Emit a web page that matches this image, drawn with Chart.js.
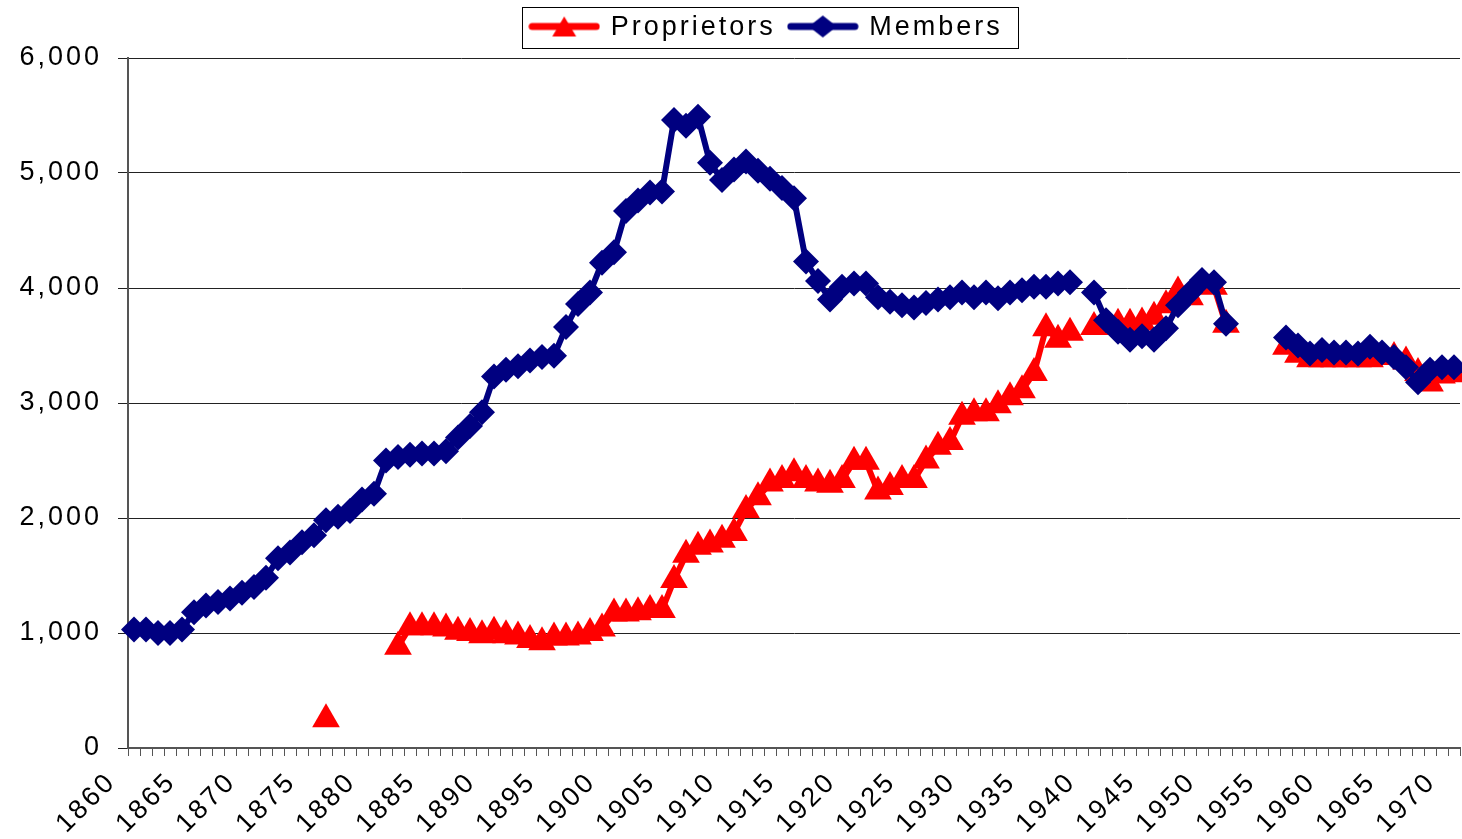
<!DOCTYPE html>
<html>
<head>
<meta charset="utf-8">
<title>Proprietors and Members</title>
<script src="https://cdn.jsdelivr.net/npm/chart.js@4.4.1/dist/chart.umd.min.js"></script>
<style>
  html, body { margin: 0; padding: 0; background: #fff; }
  #wrap { width: 1462px; height: 839px; }
</style>
</head>
<body>
<div id="wrap"><canvas id="myChart"></canvas></div>
<script>
const years = [
  '1860', '1861', '1862', '1863', '1864', '1865', '1866', '1867', '1868', '1869',
  '1870', '1871', '1872', '1873', '1874', '1875', '1876', '1877', '1878', '1879',
  '1880', '1881', '1882', '1883', '1884', '1885', '1886', '1887', '1888', '1889',
  '1890', '1891', '1892', '1893', '1894', '1895', '1896', '1897', '1898', '1899',
  '1900', '1901', '1902', '1903', '1904', '1905', '1906', '1907', '1908', '1909',
  '1910', '1911', '1912', '1913', '1914', '1915', '1916', '1917', '1918', '1919',
  '1920', '1921', '1922', '1923', '1924', '1925', '1926', '1927', '1928', '1929',
  '1930', '1931', '1932', '1933', '1934', '1935', '1936', '1937', '1938', '1939',
  '1940', '1941', '1942', '1943', '1944', '1945', '1946', '1947', '1948', '1949',
  '1950', '1951', '1952', '1953', '1954', '1955', '1956', '1957', '1958', '1959',
  '1960', '1961', '1962', '1963', '1964', '1965', '1966', '1967', '1968', '1969',
  '1970'
];

const proprietors = [
  null, null, null, null, null, null, null, null, null, null,
  null, null, null, null, null, null, 250, null, null, null,
  null, null, 880, 1050, 1050, 1050, 1040, 1010, 1000, 980,
  1010, 980, 970, 940, 920, 960, 960, 970, 1000, 1040,
  1170, 1170, 1180, 1200, 1200, 1460, 1680, 1750, 1770, 1810,
  1870, 2070, 2180, 2300, 2330, 2390, 2330, 2300, 2290, 2330,
  2490, 2490, 2230, 2270, 2330, 2330, 2500, 2620, 2660, 2880,
  2910, 2910, 2980, 3050, 3110, 3260, 3650, 3550, 3610, null,
  3660, 3660, 3690, 3690, 3700, 3750, 3850, 3970, 3920, 4020,
  4010, 3680, null, null, null, null, 3490, 3420, 3380, 3380,
  3380, 3380, 3380, 3380, 3400, 3400, 3360, 3260, 3170, 3240,
  3250
];

const members = [
  1030, 1030, 1000, 1000, 1030, 1180, 1240, 1270, 1300, 1350,
  1400, 1480, 1650, 1700, 1790, 1850, 1980, 2010, 2060, 2160,
  2210, 2500, 2530, 2550, 2560, 2560, 2580, 2700, 2800, 2920,
  3230, 3290, 3320, 3370, 3400, 3410, 3660, 3860, 3960, 4220,
  4310, 4670, 4760, 4830, 4840, 5460, 5410, 5490, 5090, 4940,
  5030, 5100, 5020, 4950, 4870, 4780, 4230, 4060, 3900, 4010,
  4040, 4040, 3920, 3880, 3850, 3830, 3870, 3900, 3920, 3960,
  3920, 3960, 3910, 3960, 3980, 4010, 4010, 4040, 4050, null,
  3960, 3720, 3620, 3550, 3580, 3550, 3650, 3850, 3960, 4070,
  4050, 3690, null, null, null, null, 3570, 3500, 3430, 3460,
  3440, 3440, 3430, 3490, 3440, 3400, 3310, 3180, 3290, 3310,
  3310
];

const yMin = 0;
const yMax = 6000;
const yStep = 1000;

const RED = '#ff0000';
const NAVY = '#000080';

// legend icon: line with the marker in the middle, like the spreadsheet legend
function legendIcon(color, marker) {
  const c = document.createElement('canvas');
  c.width = 72;
  c.height = 30;
  const g = c.getContext('2d');
  g.strokeStyle = color;
  g.fillStyle = color;
  g.lineWidth = 7;
  g.lineCap = 'round';
  g.beginPath();
  g.moveTo(4, 14);
  g.lineTo(68, 14);
  g.stroke();
  g.beginPath();
  if (marker === 'triangle') {
    g.moveTo(36, 4);
    g.lineTo(48, 24);
    g.lineTo(24, 24);
  } else {
    g.moveTo(36, 3);
    g.lineTo(50, 14);
    g.lineTo(36, 25);
    g.lineTo(22, 14);
  }
  g.closePath();
  g.fill();
  return c;
}

const iconP = legendIcon(RED, 'triangle');
const iconM = legendIcon(NAVY, 'diamond');

const excelLook = {
  id: 'excelLook',
  afterInit(chart) {
    const lg = chart.legend;
    const fit = lg.fit.bind(lg);
    lg.fit = function () { fit(); this.height = 58; };
  },
  beforeUpdate(chart) { chart.ctx.letterSpacing = '3px'; },
  beforeDraw(chart) { chart.ctx.letterSpacing = '3px'; },
  afterLayout(chart) {
    chart.legend.left += 36;
    chart.legend.right += 36;
    // let the plot run out to the right edge, as in the cropped original
    const area = chart.chartArea;
    const xs = chart.scales.x;
    area.right = chart.width - 2;
    area.width = area.right - area.left;
    xs.right = area.right;
    xs.width = area.right - xs.left;
    xs.configure();
  },
  afterDraw(chart) {
    const hb = chart.legend.legendHitBoxes;
    if (!hb || !hb.length) return;
    const a = hb[0];
    const b = hb[hb.length - 1];
    const ctx = chart.ctx;
    ctx.save();
    ctx.strokeStyle = '#000';
    ctx.lineWidth = 1;
    ctx.strokeRect(Math.round(a.left) - 8.5, Math.round(a.top) - 6.5,
      Math.round(b.left + b.width - a.left) + 24, Math.round(a.height) + 14);
    ctx.restore();
  }
};

Chart.defaults.font.family = '"Liberation Sans", Arial, sans-serif';
Chart.defaults.font.size = 27;
Chart.defaults.color = '#000';

const ctx = document.getElementById('myChart').getContext('2d');
const chart = new Chart(ctx, {
  type: 'line',
  data: {
    labels: years,
    datasets: [{
      label: 'Proprietors',
      data: proprietors,
      borderColor: RED,
      backgroundColor: RED,
      borderWidth: 6,
      borderJoinStyle: 'round',
      pointStyle: 'triangle',
      pointRadius: 16,
      pointHoverRadius: 16,
      pointBorderWidth: 0,
      pointBackgroundColor: RED,
      tension: 0,
      spanGaps: false,
      clip: false,
      order: 1
    }, {
      label: 'Members',
      data: members,
      borderColor: NAVY,
      backgroundColor: NAVY,
      borderWidth: 6,
      borderJoinStyle: 'round',
      pointStyle: 'rectRot',
      pointRadius: 13,
      pointHoverRadius: 13,
      pointBorderWidth: 0,
      pointBackgroundColor: NAVY,
      tension: 0,
      spanGaps: false,
      clip: false,
      order: 0
    }]
  },
  options: {
    responsive: true,
    maintainAspectRatio: false,
    animation: false,
    layout: { padding: 0 },
    plugins: {
      tooltip: { enabled: false },
      legend: {
        position: 'top',
        labels: {
          usePointStyle: true,
          pointStyleWidth: 66,
          padding: 14,
          color: '#000',
          font: { size: 27 },
          generateLabels: function () {
            return [
              { text: 'Proprietors', pointStyle: iconP, datasetIndex: 0, fontColor: '#000', fillStyle: RED, strokeStyle: RED, lineWidth: 0 },
              { text: 'Members', pointStyle: iconM, datasetIndex: 1, fontColor: '#000', fillStyle: NAVY, strokeStyle: NAVY, lineWidth: 0 }
            ];
          }
        }
      }
    },
    scales: {
      x: {
        offset: true,
        grid: { offset: true, drawOnChartArea: false, drawTicks: true, tickLength: 8, color: '#555', lineWidth: 1 },
        border: { display: true, color: '#555', width: 2 },
        ticks: {
          autoSkip: false,
          minRotation: 45,
          maxRotation: 45,
          padding: 10,
          labelOffset: -22,
          color: '#000',
          font: { size: 27 },
          callback: function (v, i) { return i % 5 === 0 ? this.getLabelForValue(v) : ''; }
        },
        afterFit: function (s) {
          s.height = 91;
          s.paddingLeft = 0;
          s.paddingRight = 0;
        }
      },
      y: {
        min: yMin,
        max: yMax,
        ticks: { stepSize: yStep, padding: 16, color: '#000', font: { size: 27 } },
        grid: { color: '#222', lineWidth: 1, tickLength: 10 },
        border: { display: true, color: '#555', width: 2 },
        afterFit: function (s) { s.width = 128; }
      }
    }
  },
  plugins: [excelLook]
});
</script>
</body>
</html>
